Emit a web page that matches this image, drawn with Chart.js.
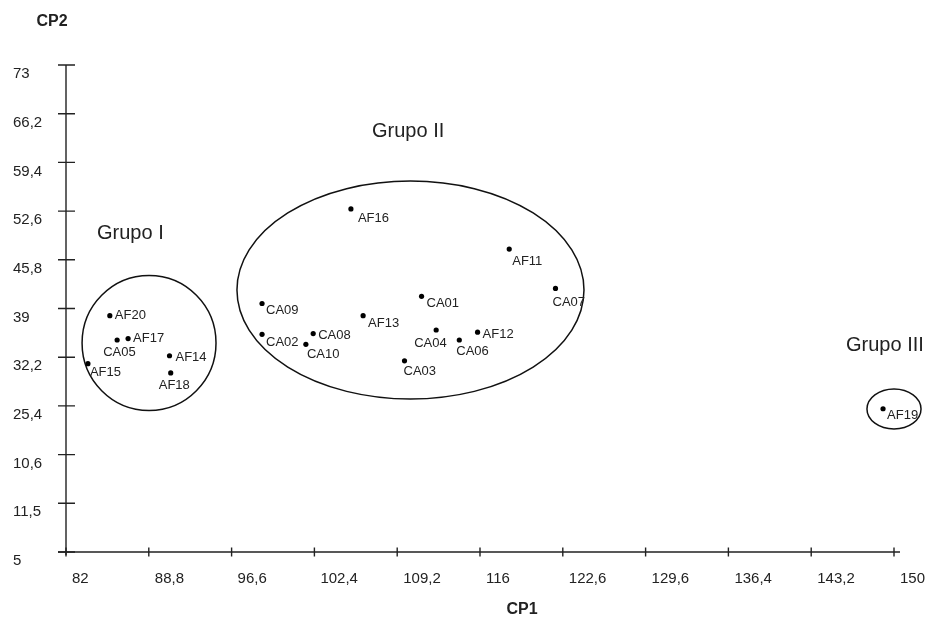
<!DOCTYPE html>
<html>
<head>
<meta charset="utf-8">
<script src="https://cdn.jsdelivr.net/npm/chart.js@4/dist/chart.umd.min.js"></script>
<style>
  html, body { margin: 0; padding: 0; background: #fff; }
  #wrap { width: 928px; height: 619px; }
</style>
</head>
<body>
<div id="wrap"><canvas id="pcachart" width="928" height="619"></canvas></div>
<script>
// samples and their scores on the two principal components
const pointNames = ['AF20', 'CA05', 'AF17', 'AF15', 'AF14', 'AF18',
    'AF16', 'AF11', 'CA07', 'CA01', 'CA09', 'AF13', 'CA02', 'CA08', 'CA10', 'CA04', 'AF12', 'CA06', 'CA03',
    'AF19'];
const cp1Values = [85.6, 86.2, 87.1, 83.8, 90.5, 90.6,
    105.4, 118.4, 122.2, 111.2, 98.1, 106.4, 98.1, 102.3, 101.7, 112.4, 115.8, 114.3, 109.8,
    149.1];
const cp2Values = [38.0, 34.6, 34.8, 31.3, 32.4, 30.0,
    52.9, 47.3, 41.8, 40.7, 39.7, 38.0, 35.4, 35.5, 34.0, 36.0, 35.7, 34.6, 31.7,
    25.0];

// axis ticks (labels are printed as in the original figure)
const xTickValues = [82, 88.8, 95.6, 102.4, 109.2, 116, 122.8, 129.6, 136.4, 143.2, 150];
const xTickLabels = ['82', '88,8', '96,6', '102,4', '109,2', '116', '122,6', '129,6', '136,4', '143,2', '150'];
const yTickValues = [5, 11.8, 18.6, 25.4, 32.2, 39, 45.8, 52.6, 59.4, 66.2, 73];
const yTickLabels = ['5', '11,5', '10,6', '25,4', '32,2', '39', '45,8', '52,6', '59,4', '66,2', '73'];

// groups drawn as ellipses (centre and radii in axis units)
const groupNames = ['Grupo I', 'Grupo II', 'Grupo III'];
const groupCenterCP1 = [88.82, 110.29, 150.0];
const groupCenterCP2 = [34.18, 41.58, 24.97];
const groupRadiusCP1 = [5.5, 14.25, 2.22];
const groupRadiusCP2 = [9.42, 15.22, 2.79];

// where the text goes, in pixels
const groupLabelPos = [[97, 233], [372, 131], [846, 345]];
const labelOffsets = {
    AF20: [5, 0], CA05: [-14, 12], AF17: [5, 0], AF15: [2, 9], AF14: [6, 2], AF18: [-12, 12],
    AF16: [7, 9], AF11: [3, 12], CA07: [-3, 14], CA01: [5, 7], CA09: [4, 7], AF13: [5, 8],
    CA02: [4, 8], CA08: [5, 2], CA10: [1, 10], CA04: [-22, 13], AF12: [5, 2], CA06: [-3, 11],
    CA03: [-1, 11], AF19: [4, 7]
};

const FONT = '"Liberation Sans", Arial, sans-serif';
const INK = '#222';

const scatterPoints = pointNames.map((name, i) => ({ x: cp1Values[i], y: cp2Values[i], name: name }));

const figurePlugin = {
    id: 'figure',
    beforeDatasetsDraw(chart) {
        const ctx = chart.ctx;
        const xs = chart.scales.x;
        const ys = chart.scales.y;
        const x0 = xs.getPixelForValue(82);
        const y0 = ys.getPixelForValue(5);
        ctx.save();
        ctx.strokeStyle = INK;
        ctx.lineWidth = 1.4;

        // axes
        ctx.beginPath();
        ctx.moveTo(x0, ys.getPixelForValue(73));
        ctx.lineTo(x0, y0 + 3);
        ctx.moveTo(x0 - 8, y0);
        ctx.lineTo(xs.getPixelForValue(150) + 6, y0);
        ctx.stroke();

        // tick marks crossing the axes
        ctx.beginPath();
        yTickValues.forEach(v => {
            const py = ys.getPixelForValue(v);
            ctx.moveTo(x0 - 8, py);
            ctx.lineTo(x0 + 9, py);
        });
        xTickValues.forEach(v => {
            const px = xs.getPixelForValue(v);
            ctx.moveTo(px, y0 - 4.5);
            ctx.lineTo(px, y0 + 4.5);
        });
        ctx.stroke();

        // group ellipses
        ctx.lineWidth = 1.5;
        ctx.strokeStyle = '#111';
        groupNames.forEach((g, i) => {
            const cx = xs.getPixelForValue(groupCenterCP1[i]);
            const cy = ys.getPixelForValue(groupCenterCP2[i]);
            const rx = Math.abs(xs.getPixelForValue(groupCenterCP1[i] + groupRadiusCP1[i]) - cx);
            const ry = Math.abs(ys.getPixelForValue(groupCenterCP2[i] + groupRadiusCP2[i]) - cy);
            ctx.beginPath();
            ctx.ellipse(cx, cy, rx, ry, 0, 0, Math.PI * 2);
            ctx.stroke();
        });
        ctx.restore();
    },
    afterDraw(chart) {
        const ctx = chart.ctx;
        const meta = chart.getDatasetMeta(0);
        ctx.save();
        ctx.fillStyle = INK;
        ctx.textBaseline = 'middle';
        ctx.textAlign = 'left';

        ctx.font = '13px ' + FONT;
        meta.data.forEach((pt, i) => {
            const off = labelOffsets[pointNames[i]] || [5, 0];
            ctx.fillText(pointNames[i], pt.x + off[0], pt.y + off[1]);
        });

        ctx.font = '20px ' + FONT;
        groupNames.forEach((g, i) => {
            ctx.fillText(g, groupLabelPos[i][0], groupLabelPos[i][1]);
        });

        ctx.font = 'bold 16px ' + FONT;
        ctx.textAlign = 'center';
        ctx.fillText('CP2', 52, 22);
        ctx.fillText('CP1', 522, 610);
        ctx.restore();
    }
};

const ctxPca = document.getElementById('pcachart').getContext('2d');
const pcaChart = new Chart(ctxPca, {
    type: 'scatter',
    data: {
        datasets: [{
            label: 'Amostras',
            data: scatterPoints,
            backgroundColor: '#000',
            borderWidth: 0,
            pointRadius: 2.6,
            pointHoverRadius: 2.6
        }]
    },
    options: {
        responsive: false,
        animation: false,
        layout: {
            autoPadding: false,
            padding: { left: 13, right: 34, top: 65, bottom: 27 }
        },
        plugins: {
            legend: { display: false },
            tooltip: { enabled: false }
        },
        scales: {
            x: {
                type: 'linear',
                min: 82,
                max: 150,
                grid: { display: false, drawTicks: false },
                border: { display: false },
                afterBuildTicks: scale => { scale.ticks = xTickValues.map(v => ({ value: v })); },
                afterFit: scale => {
                    scale.height = 40;
                    scale.paddingLeft = 0;
                    scale.paddingRight = 0;
                },
                ticks: {
                    autoSkip: false,
                    maxRotation: 0,
                    align: 'start',
                    labelOffset: 6,
                    padding: 18,
                    color: INK,
                    font: { family: FONT, size: 15 },
                    callback: (value, index) => xTickLabels[index]
                }
            },
            y: {
                type: 'linear',
                min: 5,
                max: 73,
                grid: { display: false, drawTicks: false },
                border: { display: false },
                afterBuildTicks: scale => { scale.ticks = yTickValues.map(v => ({ value: v })); },
                afterFit: scale => {
                    scale.width = 53;
                    scale.paddingTop = 0;
                    scale.paddingBottom = 0;
                },
                ticks: {
                    autoSkip: false,
                    crossAlign: 'far',
                    labelOffset: 9,
                    color: INK,
                    font: { family: FONT, size: 15 },
                    callback: (value, index) => yTickLabels[index]
                }
            }
        }
    },
    plugins: [figurePlugin]
});
</script>
</body>
</html>
